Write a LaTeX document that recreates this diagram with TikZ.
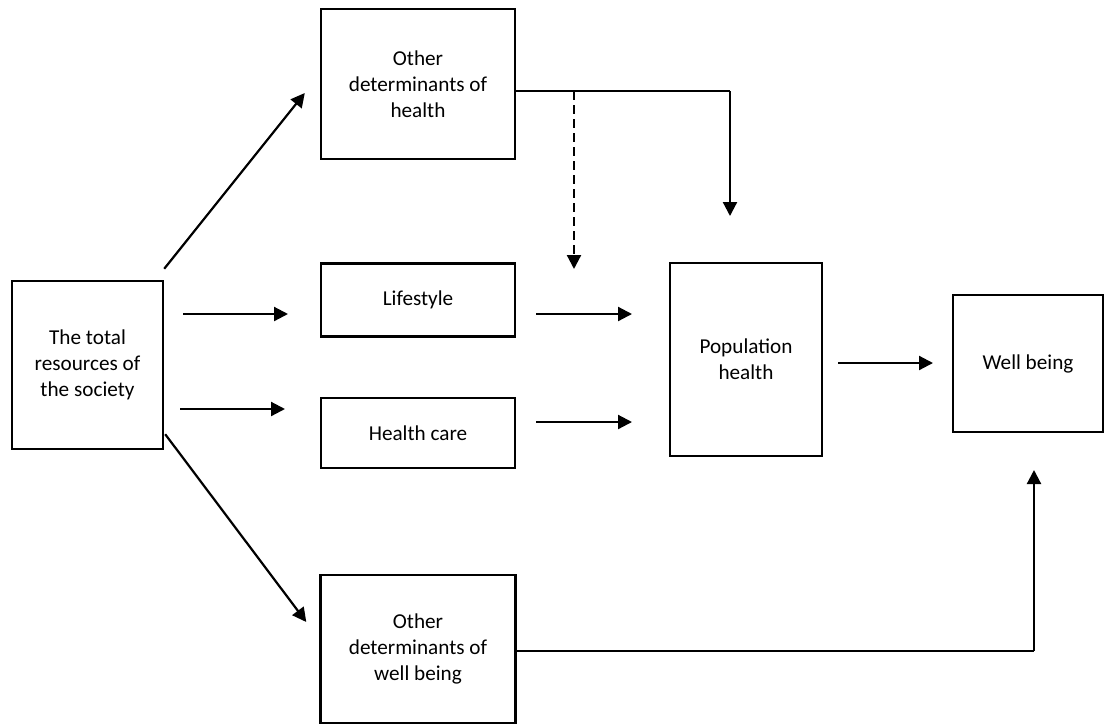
\documentclass[tikz,border=0pt]{standalone}
\usepackage{fontspec}
\setmainfont{Carlito}
\usetikzlibrary{arrows.meta,calc}
\begin{document}
\begin{tikzpicture}[x=1pt,y=-1pt,
  box/.style={draw=black,line width=2.4pt,rectangle,align=center,inner sep=0pt,
    font=\fontsize{21.2}{26}\selectfont},
  arr/.style={line width=2.2pt,-{Triangle[length=14pt,width=14pt]}},
  link/.style={line width=2.2pt},
  dashlink/.style={line width=2.2pt,dash pattern=on 9pt off 5pt,-{Triangle[length=14pt,width=14pt]}}]
\useasboundingbox (0,0) rectangle (1106,724);

% boxes
\node[box,minimum width=151pt,minimum height=168pt] (res) at (87.5,365) {The total\\resources of\\the society};
\node[box,minimum width=194pt,minimum height=150pt] (odh) at (418,84) {Other\\determinants of\\health};
\node[box,minimum width=194pt,minimum height=73pt] (life) at (418,300) {Lifestyle};
\node[box,minimum width=194pt,minimum height=70pt] (hc) at (418,433) {Health care};
\node[box,minimum width=195pt,minimum height=148pt] (odw) at (418,649) {Other\\determinants of\\well being};
\node[box,minimum width=152pt,minimum height=193pt] (pop) at (746,359.5) {Population\\health};
\node[box,minimum width=150pt,minimum height=137pt] (wb) at (1028,363.5) {Well being};

% free-standing arrow ends
\coordinate (a1s) at (183,314);
\coordinate (a1e) at (288,314);
\coordinate (a2s) at (180,409);
\coordinate (a2e) at (285,409);
\coordinate (a3s) at (536,314);
\coordinate (a3e) at (632,314);
\coordinate (a4s) at (536,422);
\coordinate (a4e) at (632,422);
\coordinate (a5s) at (838,363);
\coordinate (a5e) at (933,363);
\coordinate (odhturn) at (730,91);
\coordinate (odhend) at (730,216);
\coordinate (dashs) at (574,91);
\coordinate (dashe) at (574,269);
\coordinate (odwturn) at (1034,651);
\coordinate (odwend) at (1034,470);

% diagonal connectors from the resources box
\draw[arr] ($(res.north east)+(0,-11)$) -- ($(odh.west)+(-15,9)$);
\draw[arr] ($(res.south east)+(1,-16)$) -- ($(odw.west)+(-13,-27)$);

% horizontal arrows
\draw[arr] (a1s) -- (a1e);
\draw[arr] (a2s) -- (a2e);
\draw[arr] (a3s) -- (a3e);
\draw[arr] (a4s) -- (a4e);
\draw[arr] (a5s) -- (a5e);

% other determinants of health
\draw[link] ($(odh.east)+(0,7)$) -- (odhturn);
\draw[arr] (odhturn) -- (odhend);
\draw[dashlink] (dashs) -- (dashe);

% other determinants of well being
\draw[link] ($(odw.east)+(0,2)$) -- (odwturn);
\draw[arr] (odwturn) -- (odwend);
\end{tikzpicture}
\end{document}
